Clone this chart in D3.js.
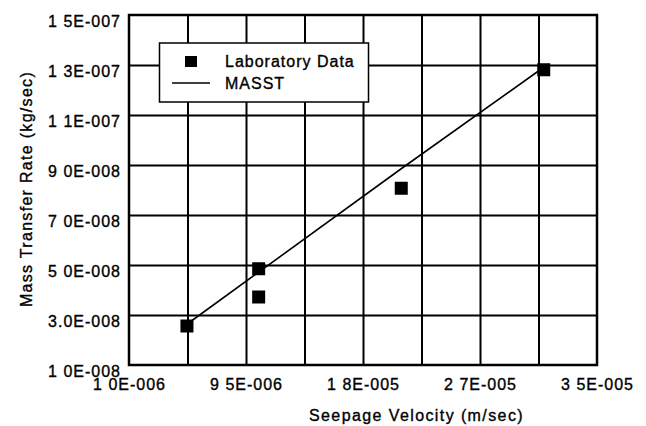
<!DOCTYPE html>
<html>
<head>
<meta charset="utf-8">
<script src="https://cdn.jsdelivr.net/npm/d3@7"></script>
<style>
  html, body { margin: 0; padding: 0; background: #fff; }
  svg { display: block; font-family: "Liberation Sans", Arial, sans-serif; }
  .tick-label { font-size: 16px; letter-spacing: 1px; fill: #000; stroke: #000; stroke-width: 0.35px; }
</style>
</head>
<body>
<svg id="chart" width="646" height="426"></svg>
<script>
// tick values and labels as printed on the figure
const xTicks = [1e-6, 9.5e-6, 1.8e-5, 2.65e-5, 3.5e-5];
const xTickLabels = ['1 0E-006', '9 5E-006', '1 8E-005', '2 7E-005', '3 5E-005'];
const xGrid = [5.25e-6, 9.5e-6, 1.375e-5, 1.8e-5, 2.225e-5, 2.65e-5, 3.075e-5];

const yTicks = [1e-8, 3e-8, 5e-8, 7e-8, 9e-8, 1.1e-7, 1.3e-7, 1.5e-7];
const yTickLabels = ['1 0E-008', '3.0E-008', '5 0E-008', '7 0E-008', '9 0E-008', '1 1E-007', '1 3E-007', '1 5E-007'];

// laboratory data (seepage velocity, mass transfer rate)
const labVelocity = [5.21e-6, 1.042e-5, 1.042e-5, 2.078e-5, 3.113e-5];
const labRate = [2.56e-8, 4.85e-8, 3.72e-8, 8.07e-8, 1.281e-7];

// MASST model
const masstVelocity = [5.43e-6, 2.08e-5, 3.09e-5];
const masstRate = [2.72e-8, 8.86e-8, 1.282e-7];

const svg = d3.select('#chart');
const plot = { left: 129, right: 597, top: 15, bottom: 365 };

const x = d3.scaleLinear().domain([1e-6, 3.5e-5]).range([plot.left, plot.right]);
const y = d3.scaleLinear().domain([1e-8, 1.5e-7]).range([plot.bottom, plot.top]);

// grid
svg.append('g')
  .attr('transform', `translate(0, ${plot.bottom})`)
  .call(d3.axisBottom(x).tickValues(xGrid).tickSize(-(plot.bottom - plot.top)).tickFormat(''))
  .call(g => g.select('.domain').remove())
  .call(g => g.selectAll('line').attr('stroke', '#000').attr('stroke-width', 2));

svg.append('g')
  .attr('transform', `translate(${plot.left}, 0)`)
  .call(d3.axisLeft(y).tickValues(yTicks.slice(1, -1)).tickSize(-(plot.right - plot.left)).tickFormat(''))
  .call(g => g.select('.domain').remove())
  .call(g => g.selectAll('line').attr('stroke', '#000').attr('stroke-width', 2));

// frame
svg.append('rect')
  .attr('x', plot.left)
  .attr('y', plot.top)
  .attr('width', plot.right - plot.left)
  .attr('height', plot.bottom - plot.top)
  .attr('fill', 'none')
  .attr('stroke', '#000')
  .attr('stroke-width', 2.5);

// tick labels
svg.append('g')
  .attr('transform', `translate(0, ${plot.bottom})`)
  .call(d3.axisBottom(x).tickValues(xTicks).tickSize(0).tickPadding(14)
    .tickFormat((d, i) => xTickLabels[i]))
  .call(g => g.select('.domain').remove())
  .call(g => g.selectAll('text')
    .attr('class', 'tick-label')
    .attr('font-family', null)
    .attr('font-size', null)
    .attr('dy', '0.71em'));

svg.append('g')
  .attr('transform', `translate(${plot.left}, 0)`)
  .call(d3.axisLeft(y).tickValues(yTicks).tickSize(0).tickPadding(8)
    .tickFormat((d, i) => yTickLabels[i]))
  .call(g => g.select('.domain').remove())
  .call(g => g.selectAll('text')
    .attr('class', 'tick-label')
    .attr('font-size', null)
    .attr('dy', 11));

// model line
const line = d3.line()
  .x(d => x(d[0]))
  .y(d => y(d[1]));

svg.append('path')
  .attr('d', line(masstVelocity.map((v, i) => [v, masstRate[i]])))
  .attr('fill', 'none')
  .attr('stroke', '#000')
  .attr('stroke-width', 1.6);

// lab points
const size = 13;
svg.append('g')
  .selectAll('rect')
  .data(labVelocity.map((v, i) => [v, labRate[i]]))
  .join('rect')
  .attr('x', d => x(d[0]) - size / 2)
  .attr('y', d => y(d[1]) - size / 2)
  .attr('width', size)
  .attr('height', size)
  .attr('fill', '#000');

// legend
const legend = svg.append('g');
legend.append('rect')
  .attr('x', 159.5)
  .attr('y', 43)
  .attr('width', 209)
  .attr('height', 59)
  .attr('fill', '#fff')
  .attr('stroke', '#000')
  .attr('stroke-width', 1.5);
legend.append('rect')
  .attr('x', 185)
  .attr('y', 56)
  .attr('width', 12)
  .attr('height', 11)
  .attr('fill', '#000');
legend.append('line')
  .attr('x1', 172)
  .attr('x2', 210)
  .attr('y1', 83)
  .attr('y2', 83)
  .attr('stroke', '#000')
  .attr('stroke-width', 1.4);
legend.append('text')
  .attr('class', 'tick-label')
  .attr('x', 225)
  .attr('y', 67)
  .text('Laboratory Data');
legend.append('text')
  .attr('class', 'tick-label')
  .attr('x', 225)
  .attr('y', 88.5)
  .text('MASST');

// axis titles
svg.append('text')
  .attr('class', 'tick-label')
  .attr('x', 309)
  .attr('y', 420.5)
  .style('letter-spacing', '1.4px')
  .text('Seepage Velocity (m/sec)');

svg.append('text')
  .attr('class', 'tick-label')
  .attr('transform', 'translate(31.5, 189) rotate(-90)')
  .attr('text-anchor', 'middle')
  .style('letter-spacing', '1.3px')
  .text('Mass Transfer Rate (kg/sec)');
</script>
</body>
</html>
